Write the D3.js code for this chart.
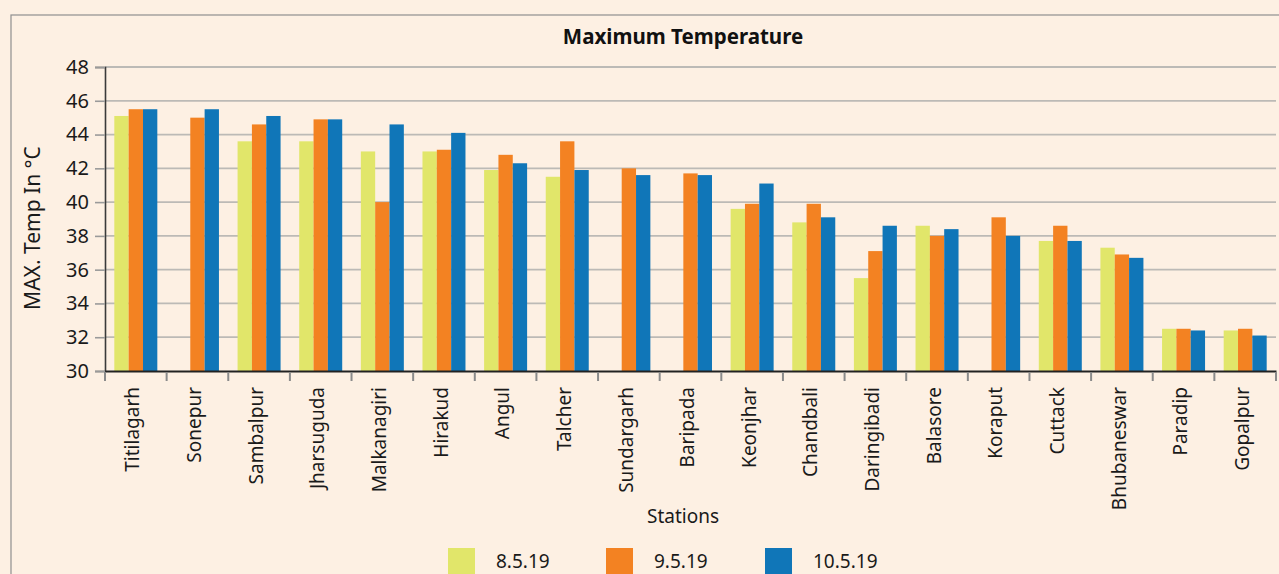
<!DOCTYPE html>
<html>
<head>
<meta charset="utf-8">
<script src="https://cdn.jsdelivr.net/npm/d3@7"></script>
<style>
  html, body { margin: 0; padding: 0; background: #fdf0e3; }
  svg { display: block; font-family: "Noto Sans", "Open Sans", sans-serif; }
</style>
</head>
<body>
<svg id="chart" width="1279" height="574"></svg>
<script>
// Maximum temperature (°C) recorded at Odisha stations
const stations = ["Titilagarh", "Sonepur", "Sambalpur", "Jharsuguda", "Malkanagiri", "Hirakud",
  "Angul", "Talcher", "Sundargarh", "Baripada", "Keonjhar", "Chandbali", "Daringibadi",
  "Balasore", "Koraput", "Cuttack", "Bhubaneswar", "Paradip", "Gopalpur"];
const seriesNames = ["8.5.19", "9.5.19", "10.5.19"];
const temp8 = [45.1, null, 43.6, 43.6, 43.0, 43.0, 41.9, 41.5, null, null, 39.6, 38.8, 35.5,
  38.6, null, 37.7, 37.3, 32.5, 32.4];
const temp9 = [45.5, 45.0, 44.6, 44.9, 40.0, 43.1, 42.8, 43.6, 42.0, 41.7, 39.9, 39.9, 37.1,
  38.0, 39.1, 38.6, 36.9, 32.5, 32.5];
const temp10 = [45.5, 45.5, 45.1, 44.9, 44.6, 44.1, 42.3, 41.9, 41.6, 41.6, 41.1, 39.1, 38.6,
  38.4, 38.0, 37.7, 36.7, 32.4, 32.1];
const yTicks = [30, 32, 34, 36, 38, 40, 42, 44, 46, 48];
const colors = ["#e1e66a", "#f38222", "#1076b8"];

const series = [temp8, temp9, temp10];
const svg = d3.select("#chart");

// outer frame
svg.append("rect").attr("x", 11).attr("y", 15).attr("width", 1300).attr("height", 600)
  .attr("fill", "none").attr("stroke", "#8f8f8f").attr("stroke-width", 1.2);

const plotLeft = 105, plotRight = 1276, plotTop = 67, plotBottom = 371;

const x = d3.scaleBand().domain(stations).range([plotLeft, plotRight]).paddingInner(0).paddingOuter(0);
const xs = d3.scaleBand().domain(seriesNames).range([0, 43]);
const y = d3.scaleLinear().domain([30, 48]).range([plotBottom, plotTop]);

// gridlines
svg.append("g").selectAll("line").data(yTicks.slice(1)).join("line")
  .attr("x1", plotLeft).attr("x2", plotRight)
  .attr("y1", d => y(d)).attr("y2", d => y(d))
  .attr("stroke", "#bcbab6").attr("stroke-width", 1.8);

// bars, three per station, centred in each band
const groupOffset = (x.bandwidth() - 43) / 2;
const g = svg.append("g");
stations.forEach((s, i) => {
  series.forEach((vals, k) => {
    const v = vals[i];
    if (v == null) return;
    g.append("rect")
      .attr("x", x(s) + groupOffset + xs(seriesNames[k]))
      .attr("width", xs.bandwidth())
      .attr("y", y(v))
      .attr("height", y(30) - y(v))
      .attr("fill", colors[k]);
  });
});

// y axis
const yAxis = svg.append("g").attr("transform", `translate(${plotLeft},0)`)
  .call(d3.axisLeft(y).tickValues(yTicks).tickSize(10).tickPadding(6).tickFormat(d3.format("d")))
  .attr("font-family", null);
yAxis.select(".domain").attr("stroke", "#3a3a3a").attr("stroke-width", 1.6);
yAxis.selectAll(".tick line").attr("stroke", "#9a9a9a").attr("stroke-width", 1.6);
yAxis.selectAll("text").attr("font-size", 20).attr("fill", "#1a1a1a");

// x axis
const xAxis = svg.append("g").attr("transform", `translate(0,${plotBottom})`)
  .call(d3.axisBottom(x).tickSize(0).tickFormat(""))
  .attr("font-family", null);
xAxis.select(".domain").attr("stroke", "#222").attr("stroke-width", 2);
const bounds = stations.map(s => x(s)).concat([plotRight]);
xAxis.append("g").selectAll("line").data(bounds).join("line")
  .attr("x1", d => d).attr("x2", d => d).attr("y1", 1).attr("y2", 10)
  .attr("stroke", "#8a8a8a").attr("stroke-width", 2);
xAxis.append("g").selectAll("text").data(stations).join("text")
  .attr("transform", d => `translate(${x(d) + x.bandwidth() / 2 - 3},16) rotate(-90)`)
  .attr("text-anchor", "end").attr("dy", "0.35em")
  .attr("font-size", 19).attr("fill", "#1a1a1a")
  .text(d => d);

// titles
svg.append("text").attr("x", 683).attr("y", 44).attr("text-anchor", "middle")
  .attr("font-size", 20.5).attr("font-weight", "bold").attr("fill", "#111")
  .text("Maximum Temperature");
svg.append("text").attr("transform", "translate(40,228) rotate(-90)")
  .attr("text-anchor", "middle").attr("font-size", 21).attr("fill", "#1a1a1a")
  .text("MAX. Temp In °C");
svg.append("text").attr("x", 683).attr("y", 523).attr("text-anchor", "middle")
  .attr("font-size", 19).attr("fill", "#1a1a1a").text("Stations");

// legend
const legendX = [448, 606, 765];
const legend = svg.append("g").selectAll("g").data(seriesNames).join("g")
  .attr("transform", (d, i) => `translate(${legendX[i]},548)`);
legend.append("rect").attr("width", 27).attr("height", 27).attr("fill", (d, i) => colors[i]);
legend.append("text").attr("x", 48).attr("y", 20).attr("font-size", 19).attr("fill", "#1a1a1a")
  .text(d => d);
</script>
</body>
</html>
